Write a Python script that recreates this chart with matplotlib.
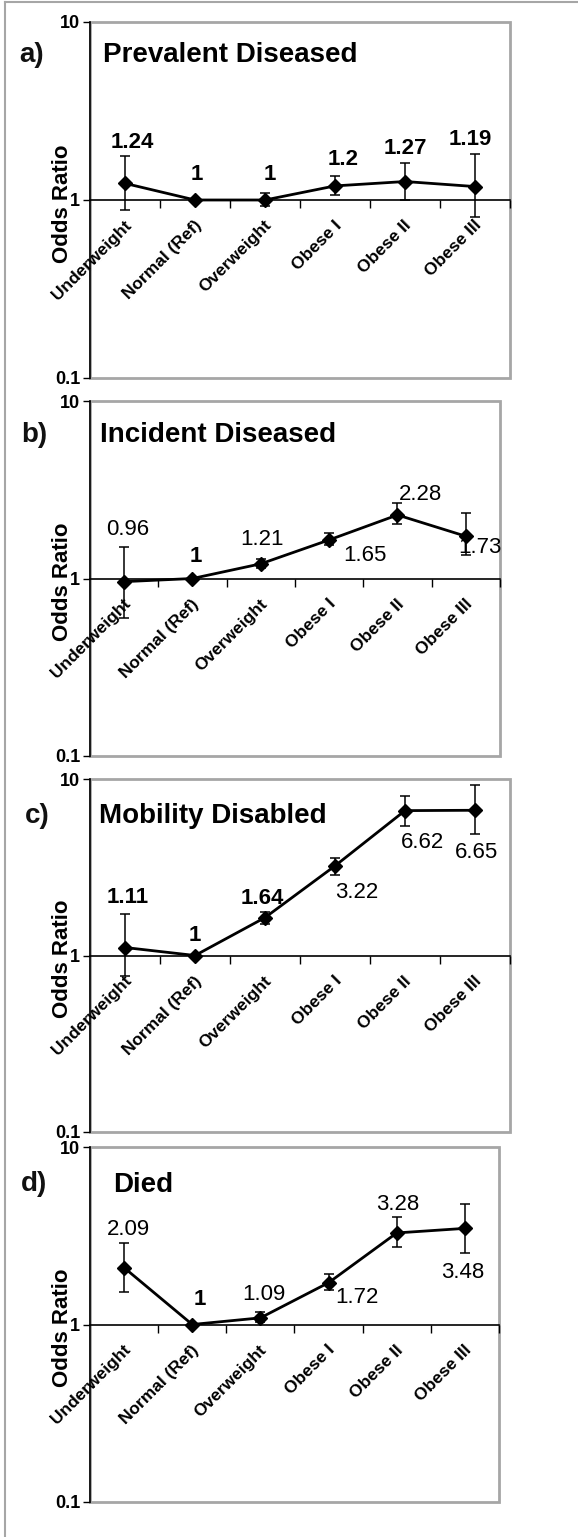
import matplotlib
matplotlib.use("Agg")
import matplotlib.pyplot as plt
from matplotlib.lines import Line2D
from matplotlib.patches import Rectangle
from matplotlib.ticker import NullLocator, FixedLocator

plt.rcParams['font.family'] = ['Liberation Sans', 'DejaVu Sans']

# ---- data ----
categories = ['Underweight', 'Normal (Ref)', 'Overweight', 'Obese I', 'Obese II', 'Obese III']

titles = ['Prevalent Diseased', 'Incident Diseased', 'Mobility Disabled', 'Died']
letters = ['a)', 'b)', 'c)', 'd)']

or_a = [1.24, 1, 1, 1.2, 1.27, 1.19]
lo_a = [0.88, 1, 0.92, 1.07, 1.0, 0.80]
hi_a = [1.77, 1, 1.09, 1.37, 1.62, 1.81]

or_b = [0.96, 1, 1.21, 1.65, 2.28, 1.73]
lo_b = [0.60, 1, 1.15, 1.54, 2.03, 1.36]
hi_b = [1.50, 1, 1.29, 1.81, 2.67, 2.34]

or_c = [1.11, 1, 1.64, 3.22, 6.62, 6.65]
lo_c = [0.77, 1, 1.50, 2.84, 5.40, 4.85]
hi_c = [1.71, 1, 1.76, 3.58, 8.06, 9.19]

or_d = [2.09, 1, 1.09, 1.72, 3.28, 3.48]
lo_d = [1.53, 1, 1.03, 1.56, 2.73, 2.53]
hi_d = [2.86, 1, 1.17, 1.93, 4.02, 4.79]

# ---- layout (pixels) ----
W, H = 578, 1537
# left, top, width, height of each plot area
boxes = [(90, 22, 420, 356), (90, 401, 410, 355), (90, 779, 420, 353), (90, 1147, 409, 355)]
title_pos = [(13, 40), (10, 41), (9, 44), (23, 45)]
letter_pos = [(32, 55), (34, 435), (37, 816), (34, 1184)]
label_off = [
    [(7, 41), (2, 25), (5, 25), (8, 26), (0, 33), (-5, 47)],
    [(4, 52), (3, 22), (1, 24), (36, -16), (23, 20), (14, -11)],
    [(3, 50), (0, 20), (-3, 19), (22, -27), (18, -32), (2, -42)],
    [(4, 38), (8, 25), (3, 23), (28, -15), (1, 28), (-2, -44)],
]
label_bold = [
    [True] * 6,
    [False, True, False, False, False, False],
    [True, True, True, False, False, False],
    [False, True, False, False, False, False],
]

series = [(or_a, lo_a, hi_a), (or_b, lo_b, hi_b), (or_c, lo_c, hi_c), (or_d, lo_d, hi_d)]

fig = plt.figure(figsize=(W / 100, H / 100), dpi=100)

frame_col = '#a6a6a6'

for k, (vals, lo, hi) in enumerate(series):
    l, t, w, h = boxes[k]
    ax = fig.add_axes([l / W, 1 - (t + h) / H, w / W, h / H])
    x = list(range(len(categories)))
    yerr = [[v - a for v, a in zip(vals, lo)], [b - v for v, b in zip(vals, hi)]]
    ax.errorbar(x, vals, yerr=yerr, fmt='none', ecolor='black', elinewidth=1.1,
                capsize=3.5, capthick=1.1, zorder=3)
    ax.plot(x, vals, color='black', lw=2, marker='D', ms=7, zorder=4)

    ax.set_yscale('log')
    ax.set_ylim(0.1, 10)
    ax.set_xlim(-0.5, len(categories) - 0.5)
    ax.yaxis.set_major_locator(FixedLocator([0.1, 1, 10]))
    ax.yaxis.set_minor_locator(NullLocator())
    ax.set_yticklabels(['0.1', '1', '10'], fontweight='bold', fontsize=13)
    ax.tick_params(axis='y', direction='out', length=5, width=1, pad=2)

    ax.xaxis.set_major_locator(FixedLocator([i + 0.5 for i in x]))
    ax.xaxis.set_minor_locator(NullLocator())
    ax.set_xticklabels([])
    ax.tick_params(axis='x', direction='out', length=6, width=1)

    ax.spines['bottom'].set_position(('data', 1))
    ax.spines['bottom'].set_linewidth(1.2)
    ax.spines['left'].set_linewidth(1.2)
    ax.spines['top'].set_visible(False)
    ax.spines['right'].set_visible(False)
    ax.add_patch(Rectangle((0, 0), 1, 1, transform=ax.transAxes, fill=False,
                           edgecolor=frame_col, lw=2, clip_on=False, zorder=0))

    for i, cat in enumerate(categories):
        ax.annotate(cat, xy=(i, 1), xytext=(4, -23), textcoords='offset pixels',
                    rotation=45, rotation_mode='anchor', ha='right', va='center',
                    fontsize=12.5, fontweight='bold')

    for i, v in enumerate(vals):
        dx, dy = label_off[k][i]
        ax.annotate(f'{v:g}', xy=(i, v), xytext=(dx, dy), textcoords='offset pixels',
                    ha='center', va='center', fontsize=16,
                    fontweight='bold' if label_bold[k][i] else 'normal', zorder=5)

    ax.set_ylabel('Odds Ratio', fontsize=16, fontweight='bold', va='center')
    ax.yaxis.set_label_coords(-28 / w, 0.49)

    tx, ty = title_pos[k]
    ax.text(tx / w, 1 - ty / h, titles[k], transform=ax.transAxes,
            fontsize=20, fontweight='bold', ha='left', va='baseline')

    lx, ly = letter_pos[k]
    fig.text(lx / W, 1 - ly / H, letters[k], fontsize=20, fontweight='bold',
             ha='center', va='center', color='#111111')

# outer border on the left and top
fig.add_artist(Line2D([5 / W, 5 / W], [0, 1 - 2 / H], color=frame_col, lw=1.5))
fig.add_artist(Line2D([5 / W, 1], [1 - 2 / H, 1 - 2 / H], color=frame_col, lw=1.5))

fig.savefig('out.png', dpi=100)
